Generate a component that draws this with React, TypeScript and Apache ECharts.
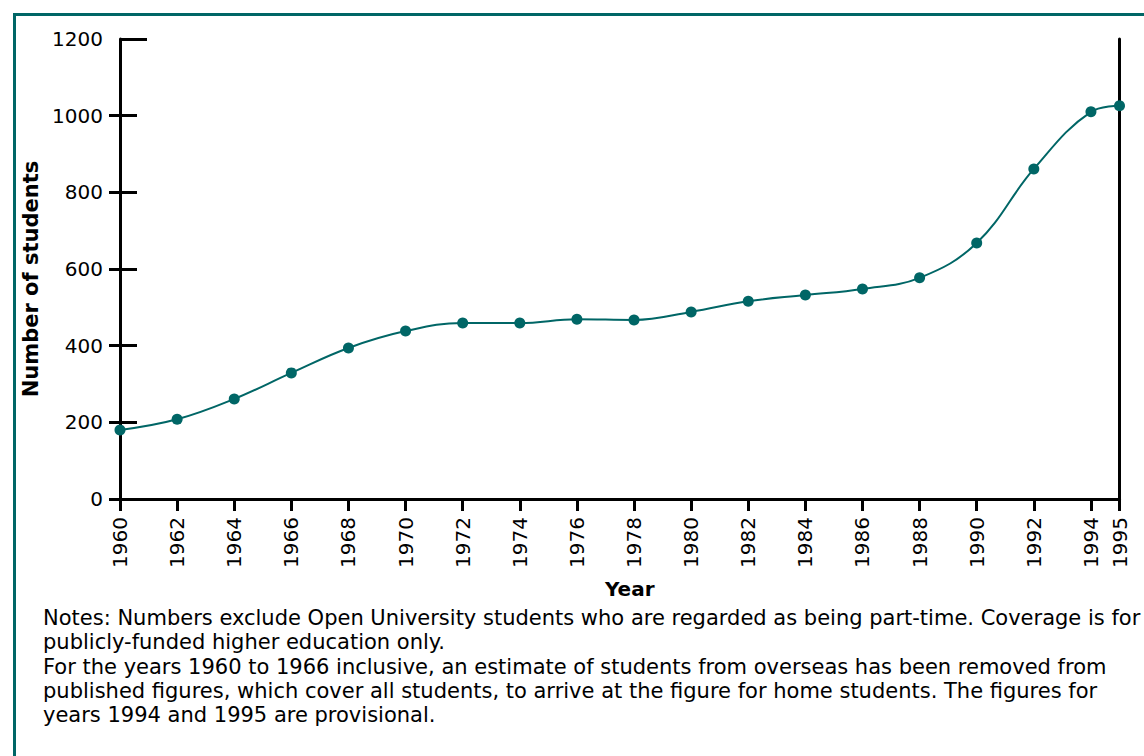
import React, { useEffect, useRef } from "react";
import * as echarts from "echarts";

const years = [1960, 1962, 1964, 1966, 1968, 1970, 1972, 1974, 1976, 1978, 1980, 1982, 1984, 1986, 1988, 1990, 1992, 1994, 1995];
const students = [180, 208, 261, 329, 394, 438, 459, 459, 469, 467, 488, 516, 532, 548, 577, 668, 861, 1010, 1026];
const xTickYears = [1960, 1962, 1964, 1966, 1968, 1970, 1972, 1974, 1976, 1978, 1980, 1982, 1984, 1986, 1988, 1990, 1992, 1994, 1995];
const yOuterTicks = [0, 200, 400, 600, 800, 1000];
const yInnerTicks = [200, 400, 600, 800, 1000];
const yTopTick = [1200];
const noteLines = [
  "Notes: Numbers exclude Open University students who are regarded as being part-time. Coverage is for",
  "publicly-funded higher education only.",
  "For the years 1960 to 1966 inclusive, an estimate of students from overseas has been removed from",
  "published figures, which cover all students, to arrive at the figure for home students. The figures for",
  "years 1994 and 1995 are provisional.",
];

const TEAL = "#006666";
const FONT = "DejaVu Sans";

export default function App() {
  const ref = useRef<HTMLDivElement>(null);
  useEffect(() => {
    if (!ref.current) return;
    const chart = echarts.init(ref.current, null, { renderer: "svg" });
    const baseY = {
      type: "value" as const,
      min: 0,
      max: 1200,
      interval: 200,
      splitLine: { show: false },
    };
    chart.setOption({
      animation: false,
      backgroundColor: "#ffffff",
      grid: { left: 120, right: 24.5, top: 39, bottom: 257, containLabel: false },
      xAxis: {
        type: "value",
        min: 1960,
        max: 1995,
        name: "Year",
        nameLocation: "middle",
        nameGap: 80,
        nameTextStyle: { fontFamily: FONT, fontSize: 20, fontWeight: "bold", color: "#000", padding: [0, 0, 0, 20] },
        axisLine: { show: true, lineStyle: { color: "#000", width: 3 } },
        axisTick: { show: true, customValues: xTickYears, length: 12, lineStyle: { color: "#000", width: 3 } },
        axisLabel: {
          customValues: xTickYears,
          rotate: 90,
          margin: 18,
          fontFamily: FONT,
          fontSize: 20,
          color: "#000",
          formatter: (v: number) => String(v),
        },
        splitLine: { show: false },
      },
      yAxis: [
        {
          ...baseY,
          position: "left",
          name: "Number of students",
          nameLocation: "middle",
          nameRotate: 90,
          nameGap: 46,
          nameTextStyle: { fontFamily: FONT, fontSize: 21, fontWeight: "bold", color: "#000", padding: [0, 20, 0, 0] },
          axisLine: { show: true, lineStyle: { color: "#000", width: 3 } },
          axisTick: { show: true, customValues: yOuterTicks, length: 11, lineStyle: { color: "#000", width: 3 } },
          axisLabel: { margin: 17, fontFamily: FONT, fontSize: 20, color: "#000", formatter: (v: number) => String(v) },
        },
        {
          ...baseY,
          position: "left",
          axisLine: { show: false },
          axisTick: { show: true, inside: true, customValues: yInnerTicks, length: 17, lineStyle: { color: "#000", width: 3 } },
          axisLabel: { show: false },
        },
        {
          ...baseY,
          position: "left",
          axisLine: { show: false },
          axisTick: { show: true, inside: true, customValues: yTopTick, length: 27, lineStyle: { color: "#000", width: 3 } },
          axisLabel: { show: false },
        },
        {
          ...baseY,
          position: "right",
          axisLine: { show: true, lineStyle: { color: "#000", width: 3 } },
          axisTick: { show: false },
          axisLabel: { show: false },
        },
      ],
      series: [
        {
          type: "line",
          xAxisIndex: 0,
          yAxisIndex: 0,
          data: years.map((y, i) => [y, students[i]]),
          smooth: 0.4,
          symbol: "circle",
          symbolSize: 11,
          itemStyle: { color: TEAL },
          lineStyle: { color: TEAL, width: 2 },
          clip: false,
        },
      ],
      graphic: [
        {
          type: "rect",
          shape: { x: 14.5, y: 14.5, width: 1300, height: 900 },
          style: { fill: "none", stroke: TEAL, lineWidth: 3 },
          silent: true,
        },
        ...noteLines.map((t, i) => ({
          type: "text",
          x: 43,
          y: 618 + i * 24.3,
          style: {
            text: t,
            fontFamily: FONT,
            fontSize: 21,
            fill: "#000",
            verticalAlign: "middle",
            align: "left",
          },
          silent: true,
        })),
      ],
    });
    return () => chart.dispose();
  }, []);
  return (
    <div
      ref={ref}
      style={{ position: "fixed", left: 0, top: 0, width: 1144, height: 756, background: "#fff" }}
    />
  );
}
